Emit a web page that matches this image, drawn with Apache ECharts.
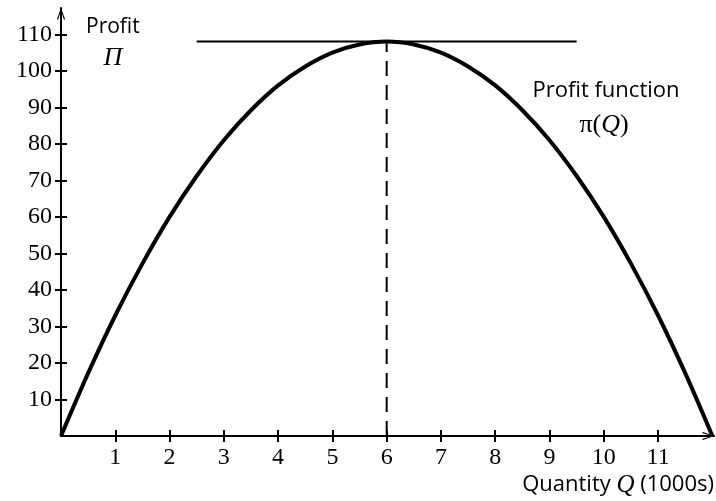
<!DOCTYPE html>
<html>
<head>
<meta charset="utf-8">
<script src="https://cdn.jsdelivr.net/npm/echarts@6/dist/echarts.min.js"></script>
<style>
html,body{margin:0;padding:0;background:#fff;}
#chart{width:716px;height:501px;}
</style>
</head>
<body>
<div id="chart"></div>
<script>
// Quantity Q (1000s) and profit
const quantity = [0, 0.5, 1, 1.5, 2, 2.5, 3, 3.5, 4, 4.5, 5, 5.5, 6, 6.5, 7, 7.5, 8, 8.5, 9, 9.5, 10, 10.5, 11, 11.5, 12];
const profit   = [0, 17.2, 33, 47.2, 60, 71.2, 81, 89.2, 96, 101.2, 105, 107.2, 108, 107.2, 105, 101.2, 96, 89.2, 81, 71.2, 60, 47.2, 33, 17.2, 0];
// horizontal tangent at the maximum
const tangentQ = [2.5, 9.5];
const maxProfit = 108;
const maxQ = 6;
// tick labels
const xTicks = [1, 2, 3, 4, 5, 6, 7, 8, 9, 10, 11];
const yTicks = [10, 20, 30, 40, 50, 60, 70, 80, 90, 100, 110];

const SERIF = '"Liberation Serif", "Times New Roman", serif';
const SANS = '"Open Sans", "Liberation Sans", sans-serif';
const arrow = 'path://M4,0 L8,11 L7,12 L4,2.6 L1,12 L0,11 Z';

const curveData = quantity.map((q, i) => [q, profit[i]]);
const tangentData = tangentQ.map(q => [q, maxProfit]);
const dashData = [[maxQ, 0], [maxQ, maxProfit]];

const X_MAX = 12.03, Y_MAX = 117.2;

const chart = echarts.init(document.getElementById('chart'), null, {renderer: 'canvas'});
chart.setOption({
  animation: false,
  backgroundColor: '#fff',
  grid: {left: 61, right: 2, top: 8, bottom: 65, containLabel: false},
  xAxis: [{
    type: 'value', min: 0, max: X_MAX, position: 'bottom',
    axisLine: {show: true, onZero: false, lineStyle: {color: '#000', width: 2},
      symbol: ['none', arrow], symbolSize: [8, 12], symbolOffset: [0, -6]},
    axisTick: {show: true, customValues: xTicks, length: 6, lineStyle: {color: '#000', width: 2}},
    axisLabel: {show: true, customValues: xTicks, color: '#000', fontFamily: SERIF, fontSize: 24, margin: 10},
    splitLine: {show: false}
  }, {
    type: 'value', min: 0, max: X_MAX, position: 'top',
    axisLine: {show: false, onZero: true, onZeroAxisIndex: 0},
    axisTick: {show: true, customValues: xTicks, length: 6, lineStyle: {color: '#000', width: 2}},
    axisLabel: {show: false},
    splitLine: {show: false}
  }],
  yAxis: [{
    type: 'value', min: 0, max: Y_MAX, position: 'left',
    axisLine: {show: true, onZero: false, lineStyle: {color: '#000', width: 2},
      symbol: ['none', arrow], symbolSize: [8, 12], symbolOffset: [0, -6]},
    axisTick: {show: true, customValues: yTicks, length: 6, lineStyle: {color: '#000', width: 2}},
    axisLabel: {show: true, customValues: yTicks, color: '#000', fontFamily: SERIF, fontSize: 24, margin: 9},
    splitLine: {show: false}
  }, {
    type: 'value', min: 0, max: Y_MAX, position: 'right',
    axisLine: {show: false, onZero: true, onZeroAxisIndex: 0},
    axisTick: {show: true, customValues: yTicks, length: 6, lineStyle: {color: '#000', width: 2}},
    axisLabel: {show: false},
    splitLine: {show: false}
  }],
  series: [{
    name: 'Profit function', type: 'line', xAxisIndex: 0, yAxisIndex: 0,
    data: curveData, smooth: 0.3, symbol: 'none',
    lineStyle: {color: '#000', width: 4}, z: 5
  }, {
    name: 'tangent', type: 'line', xAxisIndex: 0, yAxisIndex: 0,
    data: tangentData, symbol: 'none',
    lineStyle: {color: '#000', width: 2}
  }, {
    name: 'max', type: 'line', xAxisIndex: 0, yAxisIndex: 0,
    data: dashData, symbol: 'none',
    lineStyle: {color: '#000', width: 2, type: [15, 9]}
  }],
  graphic: [
    {type: 'text', x: 86, y: 27, style: {text: 'Profit', fill: '#000', font: '21px ' + SANS, align: 'left', verticalAlign: 'middle'}},
    {type: 'text', x: 113, y: 58, style: {text: 'Π', fill: '#000', font: 'italic 26px ' + SERIF, align: 'center', verticalAlign: 'middle'}},
    {type: 'text', x: 606, y: 91, style: {text: 'Profit function', fill: '#000', font: '22px ' + SANS, align: 'center', verticalAlign: 'middle'}},
    {type: 'text', x: 604, y: 125, style: {
      text: '{r|π(}{i|Q}{r|)}', align: 'center', verticalAlign: 'middle',
      rich: {r: {fontFamily: SERIF, fontSize: 26, fill: '#000'}, i: {fontFamily: SERIF, fontStyle: 'italic', fontSize: 26, fill: '#000'}}
    }},
    {type: 'text', x: 714, y: 485, style: {
      text: '{s|Quantity }{i|Q}{s| (1000s)}', align: 'right', verticalAlign: 'middle',
      rich: {s: {fontFamily: SANS, fontSize: 22, fill: '#000'}, i: {fontFamily: SERIF, fontStyle: 'italic', fontSize: 25, fill: '#000'}}
    }}
  ]
});
</script>
</body>
</html>
